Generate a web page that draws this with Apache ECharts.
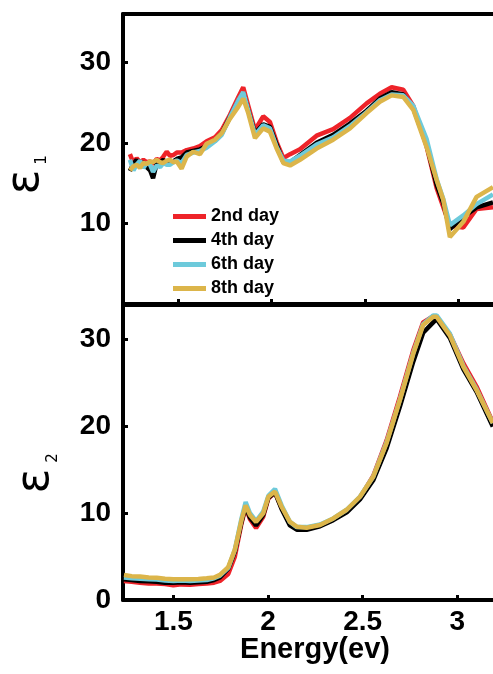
<!DOCTYPE html>
<html>
<head>
<meta charset="utf-8">
<script src="https://cdn.jsdelivr.net/npm/echarts@6/dist/echarts.min.js"></script>
<style>
html,body{margin:0;padding:0;background:#fff;}
#chart{width:493px;height:674px;}
</style>
</head>
<body>
<div id="chart"></div>
<script>
// ---------- data ----------
var seriesNames = ['2nd day', '4th day', '6th day', '8th day'];
var xTickValues = [1.5, 2, 2.5, 3];
var eps1TickValues = [10, 20, 30];
var eps2TickValues = [0, 10, 20, 30];

// Top panel (epsilon 1)
var energyTop = [1.241,1.26,1.277,1.295,1.313,1.331,1.349,1.365,1.385,1.403,1.42,1.438,1.456,1.474,1.492,1.518,1.545,1.58,1.616,1.652,1.697,1.733,1.777,1.822,1.848,1.875,1.911,1.955,1.991,2.027,2.063,2.099,2.152,2.241,2.33,2.42,2.509,2.58,2.643,2.705,2.759,2.83,2.884,2.92,2.955,3.027,3.098,3.186];
var eps1Day2 = [18.6,17.5,18.1,17.6,17.9,17.6,17.7,17.4,18.0,17.8,18.3,18.9,18.4,18.5,18.8,18.8,19.1,19.3,19.6,20.2,20.7,21.6,23.5,25.7,26.9,24.6,21.6,23.3,22.6,20.1,18.1,18.6,19.2,20.9,21.7,23.1,24.9,26.1,26.9,26.6,24.6,19.6,14.4,12.0,9.7,9.5,11.8,12.0];
var eps1Day4 = [16.5,17.4,17.9,17.2,17.6,17.0,16.6,15.6,17.5,17.6,17.9,17.4,17.6,17.7,18.0,18.2,18.8,19.0,19.2,19.6,20.3,21.2,23.2,25.2,26.2,24.0,21.2,22.3,22.0,19.8,17.6,17.6,18.5,20.0,21.0,22.4,24.0,25.5,26.3,26.0,24.3,19.8,14.8,12.5,9.3,10.8,12.0,12.6];
var eps1Day6 = [17.9,16.6,17.3,17.8,16.9,17.5,17.3,16.4,17.2,17.0,17.5,17.3,17.3,17.6,17.8,17.5,18.5,18.8,19.0,19.4,20.2,21.0,23.2,25.3,26.3,24.0,21.0,22.2,21.8,19.5,17.8,17.7,18.4,19.8,20.7,22.1,23.8,25.3,26.0,25.9,24.6,20.5,15.5,13.0,9.8,11.0,12.4,13.6];
var eps1Day8 = [16.6,17.1,17.3,16.9,17.5,17.4,17.7,17.6,17.9,17.6,17.5,17.8,17.9,17.6,17.7,16.8,18.3,18.9,18.6,19.9,20.4,21.2,23.0,24.5,25.5,23.7,20.6,21.8,21.4,19.3,17.5,17.2,17.9,19.3,20.4,21.8,23.7,25.1,25.9,25.7,24.1,19.5,15.4,12.9,8.3,10.2,13.3,14.5];

// Bottom panel (epsilon 2)
var energyBottom = [1.239,1.28,1.324,1.37,1.412,1.456,1.5,1.544,1.588,1.632,1.676,1.715,1.746,1.79,1.825,1.86,1.882,1.905,1.937,1.975,2.002,2.037,2.072,2.116,2.152,2.204,2.275,2.345,2.416,2.486,2.556,2.627,2.697,2.768,2.82,2.873,2.891,2.961,3.032,3.102,3.188];
var eps2Day2 = [2.2,2.1,2.0,1.9,1.9,1.85,1.7,1.8,1.75,1.85,1.9,2.0,2.2,3.0,5.0,8.8,10.7,9.3,8.3,9.6,11.7,12.4,10.6,8.8,8.3,8.3,8.6,9.3,10.3,11.8,14.3,18.4,23.4,28.8,32.0,32.7,32.5,30.6,27.3,24.6,20.5];
var eps2Day4 = [2.4,2.3,2.2,2.15,2.1,2.0,2.0,2.05,2.0,2.05,2.1,2.3,2.6,3.6,5.6,9.0,10.8,9.5,8.6,9.8,11.8,12.4,10.5,8.6,8.1,8.1,8.5,9.2,10.1,11.6,13.8,17.5,22.3,27.5,30.8,32.0,32.4,30.2,26.6,24.0,20.0];
var eps2Day6 = [2.6,2.5,2.45,2.4,2.35,2.25,2.2,2.25,2.2,2.25,2.3,2.5,2.8,3.7,5.8,9.4,11.3,10.0,9.1,10.2,12.0,12.8,10.9,9.0,8.4,8.4,8.7,9.4,10.4,11.9,14.2,18.2,23.1,28.5,31.8,32.8,32.8,30.7,27.0,24.3,20.4];
var eps2Day8 = [2.88,2.75,2.7,2.6,2.57,2.45,2.38,2.4,2.38,2.42,2.5,2.6,2.9,3.8,5.8,9.2,10.9,9.8,9.0,10.0,11.9,12.5,10.75,9.0,8.45,8.33,8.65,9.4,10.4,11.9,14.2,18.1,23.05,28.4,31.7,32.65,32.65,30.5,26.9,24.2,20.4];

// ---------- chart ----------
var colors = ['#ee2329', '#000000', '#6dcadb', '#dcb54a'];
var FONT = 'Liberation Sans';

function pairs(xs, ys) {
  return xs.map(function (x, i) { return [x, ys[i]]; });
}

var topSets = [eps1Day2, eps1Day4, eps1Day6, eps1Day8];
var botSets = [eps2Day2, eps2Day4, eps2Day6, eps2Day8];
var series = [];
seriesNames.forEach(function (name, i) {
  series.push({
    name: name, type: 'line', xAxisIndex: 0, yAxisIndex: 0,
    data: pairs(energyTop, topSets[i]), showSymbol: false, symbol: 'none',
    lineStyle: { width: 4.5, color: colors[i] }, itemStyle: { color: colors[i] },
    z: 2 + i
  });
});
seriesNames.forEach(function (name, i) {
  series.push({
    name: name, type: 'line', xAxisIndex: 1, yAxisIndex: 1,
    data: pairs(energyBottom, botSets[i]), showSymbol: false, symbol: 'none',
    lineStyle: { width: 4.5, color: colors[i] }, itemStyle: { color: colors[i] },
    z: 2 + i
  });
});

var axisLineStyle = { show: true, lineStyle: { color: '#000', width: 4 } };
var tickStyle = { show: true, inside: true, length: 5, lineStyle: { color: '#000', width: 3 } };
var labelStyle = { color: '#000', fontFamily: FONT, fontWeight: 'bold', fontSize: 28 };

var option = {
  animation: false,
  backgroundColor: '#fff',
  grid: [
    { left: 123, top: 14, width: 370, height: 290 },
    { left: 123, top: 305, width: 370, height: 295 }
  ],
  xAxis: [
    { type: 'value', gridIndex: 0, min: 1.204, max: 3.186, position: 'bottom',
      axisLine: axisLineStyle,
      axisTick: Object.assign({}, tickStyle, { customValues: xTickValues }),
      axisLabel: { show: false }, splitLine: { show: false } },
    { type: 'value', gridIndex: 1, min: 1.234, max: 3.189, position: 'bottom',
      axisLine: axisLineStyle,
      axisTick: Object.assign({}, tickStyle, { customValues: xTickValues }),
      axisLabel: Object.assign({}, labelStyle, { margin: 8, customValues: xTickValues }),
      splitLine: { show: false } },
    { type: 'value', gridIndex: 0, min: 1.204, max: 3.186, position: 'top',
      axisLine: axisLineStyle, axisTick: { show: false }, axisLabel: { show: false }, splitLine: { show: false } },
    { type: 'value', gridIndex: 1, min: 1.234, max: 3.189, position: 'top',
      axisLine: axisLineStyle, axisTick: { show: false }, axisLabel: { show: false }, splitLine: { show: false } }
  ],
  yAxis: [
    { type: 'value', gridIndex: 0, min: 0, max: 36,
      axisLine: axisLineStyle,
      axisTick: Object.assign({}, tickStyle, { customValues: eps1TickValues }),
      axisLabel: Object.assign({}, labelStyle, { margin: 12, customValues: eps1TickValues }),
      splitLine: { show: false } },
    { type: 'value', gridIndex: 1, min: 0, max: 34,
      axisLine: axisLineStyle,
      axisTick: Object.assign({}, tickStyle, { customValues: eps2TickValues }),
      axisLabel: Object.assign({}, labelStyle, { margin: 12, customValues: eps2TickValues }),
      splitLine: { show: false } }
  ],
  legend: {
    data: seriesNames, orient: 'vertical', left: 168, top: 202,
    icon: 'rect', itemWidth: 33, itemHeight: 5, itemGap: 5,
    textStyle: { color: '#000', fontFamily: FONT, fontWeight: 'bold', fontSize: 18, lineHeight: 19 }
  },
  graphic: [
    { type: 'text', x: 26, y: 182, rotation: Math.PI / 2,
      style: { text: 'ε', fontSize: 46, fontFamily: 'DejaVu Sans', fill: '#000', align: 'center', verticalAlign: 'middle' } },
    { type: 'text', x: 42, y: 160, rotation: Math.PI / 2,
      style: { text: '1', fontSize: 15, fontFamily: 'DejaVu Sans', fill: '#000', align: 'center', verticalAlign: 'middle' } },
    { type: 'text', x: 36, y: 481, rotation: Math.PI / 2,
      style: { text: 'ε', fontSize: 46, fontFamily: 'DejaVu Sans', fill: '#000', align: 'center', verticalAlign: 'middle' } },
    { type: 'text', x: 53, y: 458, rotation: Math.PI / 2,
      style: { text: '2', fontSize: 15, fontFamily: 'DejaVu Sans', fill: '#000', align: 'center', verticalAlign: 'middle' } },
    { type: 'text', x: 315, y: 650,
      style: { text: 'Energy(ev)', fontSize: 29, fontFamily: FONT, fontWeight: 'bold', fill: '#000', align: 'center', verticalAlign: 'middle' } }
  ],
  series: series
};

var chart = echarts.init(document.getElementById('chart'), null, { renderer: 'canvas' });
chart.setOption(option);
</script>
</body>
</html>
